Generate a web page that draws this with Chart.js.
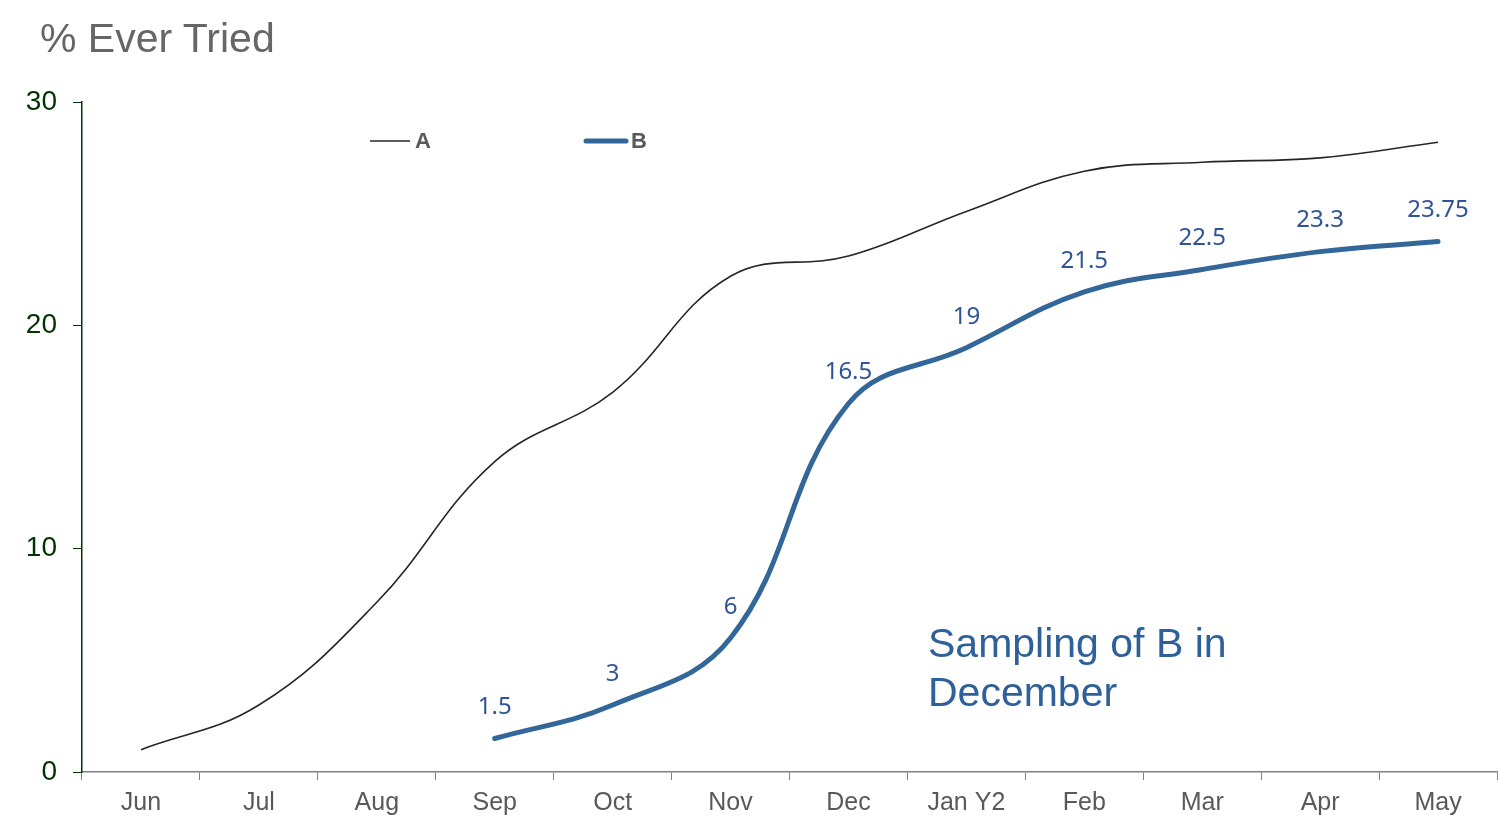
<!DOCTYPE html>
<html>
<head>
<meta charset="utf-8">
<script src="https://cdn.jsdelivr.net/npm/chart.js@4"></script>
<style>
  html, body { margin: 0; padding: 0; background: #fff; }
  #wrap { position: relative; width: 1499px; height: 828px; }
  #title { position: absolute; left: 40px; top: 15px; font: 41px "Liberation Sans", Arial, sans-serif; color: #666; }
  #note { position: absolute; left: 928px; top: 619px; font: 41px "Liberation Sans", Arial, sans-serif; color: #2e6099; line-height: 49px; }
</style>
</head>
<body>
<div id="wrap">
  <canvas id="chart" width="1499" height="828"></canvas>
  <div id="title">% Ever Tried</div>
  <div id="note">Sampling of B in<br>December</div>
</div>
<script>
/* % Ever Tried - A vs B */

const months = ['Jun', 'Jul', 'Aug', 'Sep', 'Oct', 'Nov', 'Dec', 'Jan Y2', 'Feb', 'Mar', 'Apr', 'May'];
const seriesA = [1, 3, 7.6, 13.9, 17, 22.2, 23.1, 25.1, 26.9, 27.3, 27.5, 28.2];
const seriesB = [null, null, null, 1.5, 3, 6, 16.5, 19, 21.5, 22.5, 23.3, 23.75];
const yTicks = [0, 10, 20, 30];

// value labels above points of B
const labelPlugin = {
  id: 'bLabels',
  afterDatasetsDraw(chart) {
    const ctx = chart.ctx;
    const meta = chart.getDatasetMeta(1);
    ctx.save();
    ctx.font = '24px "Noto Sans", "Open Sans", sans-serif';
    ctx.fillStyle = '#2f5496';
    ctx.textAlign = 'center';
    ctx.textBaseline = 'middle';
    meta.data.forEach((pt, i) => {
      const v = seriesB[i];
      if (v === null) return;
      ctx.fillText(String(v), pt.x, pt.y - 31);
    });
    ctx.restore();
  }
};

// legend drawn by hand to place it like the original
const legendPlugin = {
  id: 'customLegend',
  afterDraw(chart) {
    const ctx = chart.ctx;
    const items = [{ x: 370, ds: chart.data.datasets[0] }, { x: 586, ds: chart.data.datasets[1] }];
    ctx.save();
    ctx.font = 'bold 22px "Liberation Sans", Arial, sans-serif';
    ctx.fillStyle = '#595959';
    ctx.textBaseline = 'middle';
    items.forEach(it => {
      ctx.beginPath();
      ctx.strokeStyle = it.ds.borderColor;
      ctx.lineWidth = it.ds.borderWidth;
      ctx.lineCap = it.ds.borderWidth > 2 ? 'round' : 'butt';
      ctx.moveTo(it.x, 141);
      ctx.lineTo(it.x + 40, 141);
      ctx.stroke();
      ctx.fillText(it.ds.label, it.x + 45, 142);
    });
    ctx.restore();
  }
};

new Chart(document.getElementById('chart'), {
  type: 'line',
  data: {
    labels: months,
    datasets: [
      { label: 'A', data: seriesA, borderColor: '#262626', borderWidth: 1.6, tension: 0.4, pointRadius: 0, fill: false },
      { label: 'B', data: seriesB, borderColor: '#336699', borderWidth: 5, tension: 0.4, pointRadius: 0, fill: false, borderCapStyle: 'round' },
    ]
  },
  options: {
    responsive: false,
    animation: false,
    layout: { padding: { top: 102, right: 2, left: 0, bottom: 0 } },
    plugins: { legend: { display: false }, tooltip: { enabled: false } },
    scales: {
      x: {
        offset: true,
        grid: { display: true, drawOnChartArea: false, offset: true, color: '#808080', tickLength: 8 },
        border: { color: '#808080', width: 1.5 },
        ticks: { color: '#595959', font: { family: '"Liberation Sans", Arial', size: 25 }, padding: 8 },
        afterFit: s => { s.height = 56; }
      },
      y: {
        min: 0, max: 30,
        afterBuildTicks: s => { s.ticks = yTicks.map(v => ({ value: v })); },
        grid: { display: true, drawOnChartArea: false, color: '#003300', tickLength: 9 },
        border: { color: '#003300', width: 1.5 },
        ticks: { color: '#003300', font: { family: '"Liberation Sans", Arial', size: 28 }, padding: 16 },
        afterFit: s => { s.width = 82; }
      }
    }
  },
  plugins: [labelPlugin, legendPlugin]
});
</script>
</body>
</html>
